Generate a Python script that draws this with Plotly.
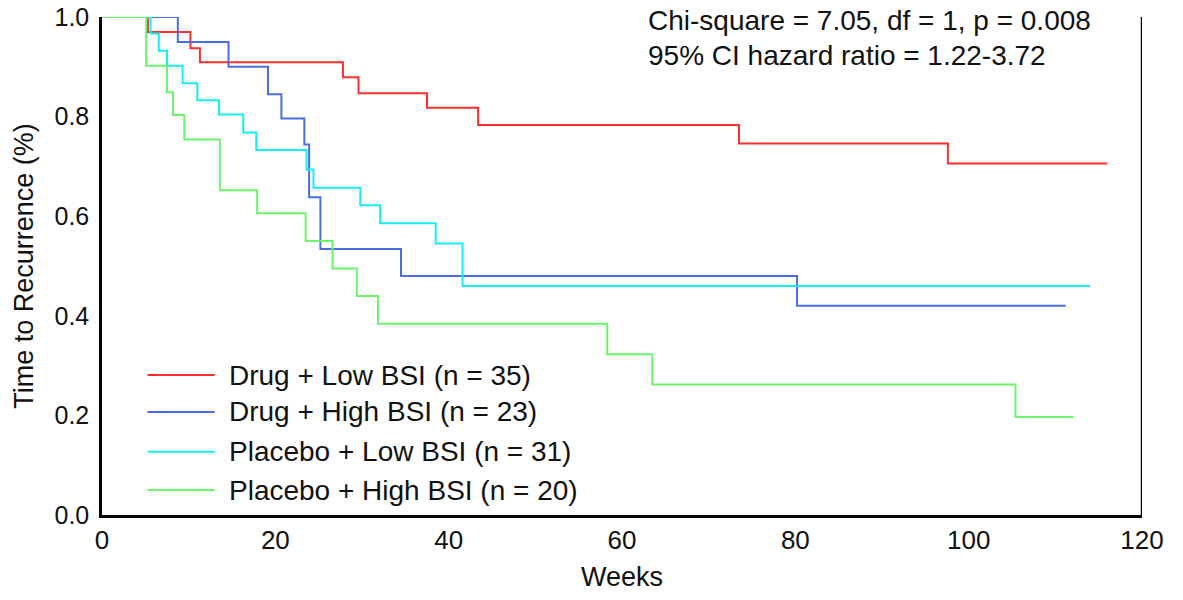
import plotly.graph_objects as go

# ---- data ----
series_names = [
    "Drug + Low BSI (n = 35)",
    "Drug + High BSI (n = 23)",
    "Placebo + Low BSI (n = 31)",
    "Placebo + High BSI (n = 20)",
]
drug_low_weeks = [0, 5.3, 10.2, 11.3, 27.8, 29.6, 37.5, 43.4, 73.5, 97.6, 116.0]
drug_low_surv = [1.0, 0.970, 0.937, 0.909, 0.879, 0.847, 0.818, 0.783, 0.746, 0.706, 0.706]

drug_high_weeks = [0, 8.75, 14.6, 19.15, 20.7, 23.35, 23.9, 25.2, 34.5, 80.2, 111.2]
drug_high_surv = [1.0, 0.950, 0.900, 0.845, 0.796, 0.744, 0.638, 0.534, 0.480, 0.420, 0.420]

placebo_low_weeks = [0, 5.6, 6.55, 7.5, 9.3, 11.0, 13.5, 16.3, 17.8, 23.6, 24.4, 29.8, 32.1, 38.5, 41.6, 114.0]
placebo_low_surv = [1.0, 0.967, 0.932, 0.902, 0.867, 0.833, 0.804, 0.768, 0.733, 0.694, 0.657, 0.622, 0.586, 0.545, 0.460, 0.460]

placebo_high_weeks = [0, 5.1, 7.5, 8.2, 9.5, 13.6, 17.9, 23.5, 26.6, 29.4, 31.85, 58.3, 63.5, 105.4, 112.1]
placebo_high_surv = [1.0, 0.902, 0.849, 0.803, 0.754, 0.652, 0.606, 0.550, 0.495, 0.440, 0.384, 0.323, 0.262, 0.197, 0.197]

x_ticks = [0, 20, 40, 60, 80, 100, 120]
y_ticks = [0.0, 0.2, 0.4, 0.6, 0.8, 1.0]
stat_lines = ["Chi-square = 7.05, df = 1, p = 0.008", "95% CI hazard ratio = 1.22-3.72"]

# ---- styling ----
colors = ["#FF2E2E", "#4A6CE6", "#14F0F0", "#6CF46C"]
FONT = "Liberation Sans, Arial, sans-serif"

weeks = [drug_low_weeks, drug_high_weeks, placebo_low_weeks, placebo_high_weeks]
surv = [drug_low_surv, drug_high_surv, placebo_low_surv, placebo_high_surv]

fig = go.Figure()
for name, w, s, c in zip(series_names, weeks, surv, colors):
    fig.add_trace(go.Scatter(
        x=w, y=s, mode="lines", name=name,
        line=dict(color=c, width=2, shape="hv"),
        showlegend=False, hoverinfo="skip", cliponaxis=False,
    ))

# manual legend (long line samples like the reference)
legend_y = [0.281, 0.207, 0.127, 0.050]
shapes = []
annotations = []
for name, c, ly in zip(series_names, colors, legend_y):
    shapes.append(dict(type="line", xref="x", yref="y", x0=5.25, x1=13.0, y0=ly, y1=ly,
                       line=dict(color=c, width=2)))
    annotations.append(dict(x=14.4, y=ly, xref="x", yref="y", text=name, showarrow=False,
                            xanchor="left", yanchor="middle",
                            font=dict(family=FONT, size=28, color="#111")))

# right frame line
shapes.append(dict(type="line", xref="x", yref="paper", x0=120, x1=120, y0=0, y1=1.0,
                   line=dict(color="black", width=2.5)))

for i, t in enumerate(stat_lines):
    annotations.append(dict(x=62.8, y=0.992 - i * 0.07, xref="x", yref="y", text=t,
                            showarrow=False, xanchor="left", yanchor="middle",
                            font=dict(family=FONT, size=28, color="#111")))

fig.update_layout(
    width=1183, height=600,
    margin=dict(l=102, r=41, t=17, b=85),
    paper_bgcolor="white", plot_bgcolor="white",
    font=dict(family=FONT, size=26, color="#111"),
    shapes=shapes, annotations=annotations,
    xaxis=dict(range=[0, 120], tickvals=x_ticks, ticktext=[str(v) for v in x_ticks],
               showgrid=False, zeroline=False, showline=True, linecolor="black", linewidth=2.5,
               ticks="", automargin=False, tickfont=dict(size=26), ticklabeloverflow="allow",
               title=dict(text="Weeks", standoff=14, font=dict(size=27))),
    yaxis=dict(range=[0, 1.0], tickvals=y_ticks, ticktext=[f"{v:.1f}" for v in y_ticks],
               showgrid=False, zeroline=False, showline=True, linecolor="black", linewidth=2.5,
               ticks="", automargin=False, tickfont=dict(size=25), ticklabelstandoff=5,
               ticklabeloverflow="allow",
               title=dict(text="Time to Recurrence (%)", standoff=14, font=dict(size=27))),
)

# remove the browser's default 8px body margin so the figure fills the window exactly
fig.write_html("out.html", config={"displayModeBar": False},
               post_script="document.body.style.margin='0';")
